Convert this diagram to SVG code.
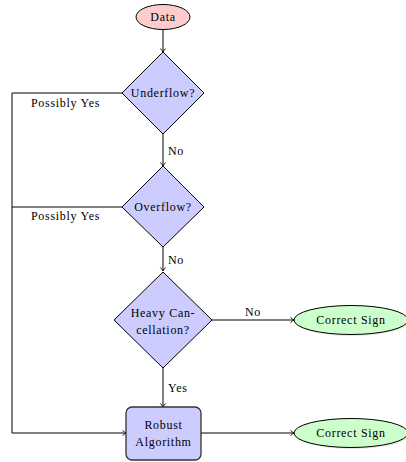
<svg xmlns="http://www.w3.org/2000/svg" width="406" height="462" viewBox="0 0 406 462" font-family="'Liberation Serif', 'Times New Roman', serif" font-size="12">
<defs>
<marker id="arr" markerUnits="userSpaceOnUse" markerWidth="10" markerHeight="10" viewBox="-6 -5 10 10" refX="0" refY="0" orient="auto">
<path d="M-3.5,-2.6 Q-1.2,-0.6 0,0 Q-1.2,0.6 -3.5,2.6" fill="none" stroke="#000" stroke-width="0.9"/>
</marker>
</defs>
<style>
text{font-family:'Liberation Serif','Times New Roman',serif;font-size:12px;letter-spacing:0.7px;fill:#000;font-weight:normal}
.c{text-anchor:middle}
.dia{fill:#ccccff;stroke:#000;stroke-width:1}
.e{stroke:#000;stroke-width:1}
.ln{fill:none;stroke:#000;stroke-width:1}
</style>
<g id="connectors">
<line class="ln" x1="163" y1="30" x2="163" y2="52" marker-end="url(#arr)"/>
<line class="ln" x1="163" y1="134" x2="163" y2="166" marker-end="url(#arr)"/>
<text x="168" y="155">No</text>
<line class="ln" x1="163" y1="247" x2="163" y2="271" marker-end="url(#arr)"/>
<text x="168" y="264">No</text>
<line class="ln" x1="212" y1="320" x2="294" y2="320" marker-end="url(#arr)"/>
<text class="c" x="253" y="316">No</text>
<line class="ln" x1="163" y1="368" x2="163" y2="407" marker-end="url(#arr)"/>
<text x="168" y="392">Yes</text>
<path class="ln" d="M122,93 H12 V433 H126" marker-end="url(#arr)"/>
<text x="31" y="107">Possibly Yes</text>
<path class="ln" d="M122,207 H12"/>
<text x="31" y="220">Possibly Yes</text>
<line class="ln" x1="201" y1="433" x2="294" y2="433" marker-end="url(#arr)"/>
</g>
<g id="data">
<ellipse class="e" cx="163" cy="17" rx="27" ry="12.5" fill="#ffcccc"/>
<text class="c" x="163" y="21">Data</text>
</g>
<g id="underflow">
<polygon class="dia" points="163,52 204,93 163,134 122,93"/>
<text class="c" x="163" y="97">Underflow?</text>
</g>
<g id="overflow">
<polygon class="dia" points="163,166 204,207 163,247 122,207"/>
<text class="c" x="163" y="211">Overflow?</text>
</g>
<g id="heavy">
<polygon class="dia" points="163,272 212,320 163,368 114,320"/>
<text class="c" x="163" y="317">Heavy Can-</text>
<text class="c" x="163" y="334">cellation?</text>
</g>
<g id="sign1">
<ellipse cx="352" cy="321.5" rx="57" ry="14.5" fill="#bbbbbb" opacity="0.35"/>
<ellipse class="e" cx="351" cy="320" rx="57" ry="14.5" fill="#ccffcc"/>
<text class="c" x="351" y="324">Correct Sign</text>
</g>
<g id="robust">
<rect x="126" y="407" width="75" height="53" rx="6" fill="#ccccff" stroke="#333" stroke-width="1.3"/>
<text class="c" x="163.5" y="429">Robust</text>
<text class="c" x="163.5" y="446">Algorithm</text>
</g>
<g id="sign2">
<ellipse cx="352" cy="434.5" rx="57" ry="14.5" fill="#bbbbbb" opacity="0.35"/>
<ellipse class="e" cx="351" cy="433" rx="57" ry="14.5" fill="#ccffcc"/>
<text class="c" x="351" y="437">Correct Sign</text>
</g>
</svg>
